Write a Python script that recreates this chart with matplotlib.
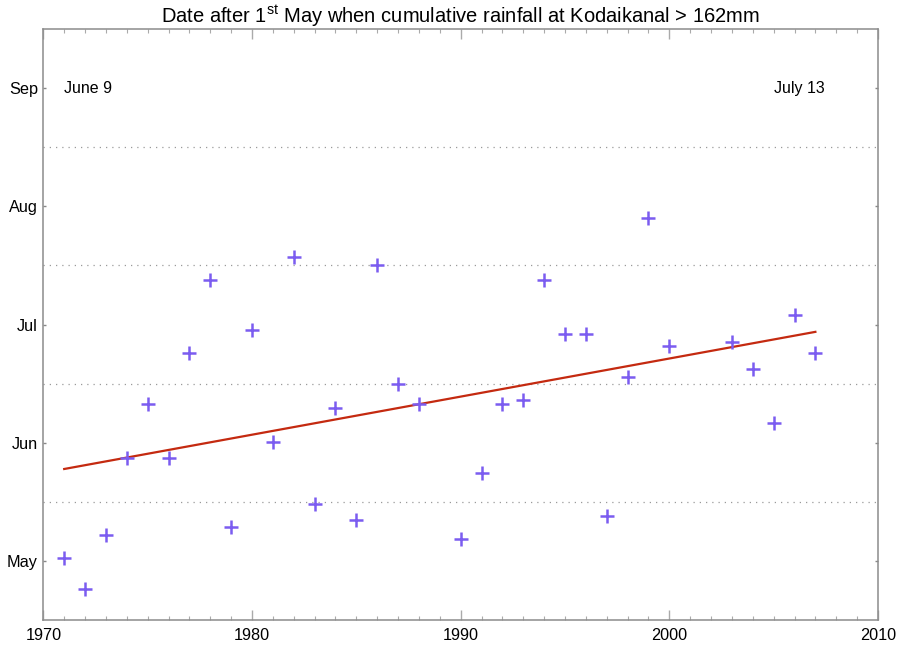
import numpy as np
import matplotlib
matplotlib.use("Agg")
import matplotlib.pyplot as plt
from matplotlib.ticker import MultipleLocator

plt.rcParams['font.family'] = ['Liberation Sans', 'DejaVu Sans']
plt.rcParams['mathtext.fontset'] = 'custom'
plt.rcParams['mathtext.rm'] = 'Liberation Sans'

# days after 1 May when cumulative rainfall passed 162 mm
years = [1971, 1972, 1973, 1974, 1975, 1976, 1977, 1978, 1979, 1980,
         1981, 1982, 1983, 1984, 1985, 1986, 1987, 1988, 1990, 1991,
         1992, 1993, 1994, 1995, 1996, 1997, 1998, 1999, 2000, 2003,
         2004, 2005, 2006, 2007]
days = [16, 8, 22, 42, 56, 42, 69, 88, 24, 75,
        46, 94, 30, 55, 26, 92, 61, 56, 21, 38,
        56, 57, 88, 74, 74, 27, 63, 104, 71, 72,
        65, 51, 79, 69]

# linear trend end points
trend_years = [1971, 2007]
trend_days = [39.1, 74.6]
trend_labels = ["June 9", "July 13"]

month_names = ["May", "Jun", "Jul", "Aug", "Sep"]
month_len = 153 / 5.0  # 1 May -> 1 Oct, drawn as equal months

fig = plt.figure(figsize=(8.97, 6.46), dpi=100)
ax = fig.add_axes([0.0483, 0.0402, 0.9305, 0.9149])

ax.plot(trend_years, trend_days, color="#c42a10", lw=1.6, zorder=2)
ax.plot(years, days, ls="none", marker="+", ms=10, mew=1.8,
        color="#7b5cf0", zorder=3)

ax.set_xlim(1970, 2010)
ax.set_ylim(0, 5 * month_len)

ax.xaxis.set_major_locator(MultipleLocator(10))
ax.xaxis.set_minor_locator(MultipleLocator(1))
ax.tick_params(axis="x", which="major", direction="in", length=7, width=1,
               color="#aaaaaa", top=True, labelsize=11.7, pad=6)
ax.tick_params(axis="x", which="minor", direction="in", length=3, width=0.8,
               color="#aaaaaa", top=True)

ax.set_yticks([(i + 0.5) * month_len for i in range(5)])
ax.set_yticklabels(month_names)
ax.tick_params(axis="y", direction="in", length=2, width=1, color="#888888",
               right=True, labelsize=11.7, pad=4)

for i in range(1, 5):
    ax.axhline(i * month_len, color="#9a9a9a", lw=0.9, ls=(0, (1, 4)), zorder=1)

for s in ax.spines.values():
    s.set_color("#8c8c8c")
    s.set_linewidth(1.1)

ax.text(0.025, 0.90, trend_labels[0], transform=ax.transAxes, fontsize=11.5,
        ha="left", va="center")
ax.text(0.936, 0.90, trend_labels[1], transform=ax.transAxes, fontsize=11.5,
        ha="right", va="center")

ax.set_title(r"Date after 1$^{\mathrm{st}}$ May when cumulative rainfall at Kodaikanal > 162mm",
             fontsize=14.5, pad=4)

fig.savefig("out.png", dpi=100)
